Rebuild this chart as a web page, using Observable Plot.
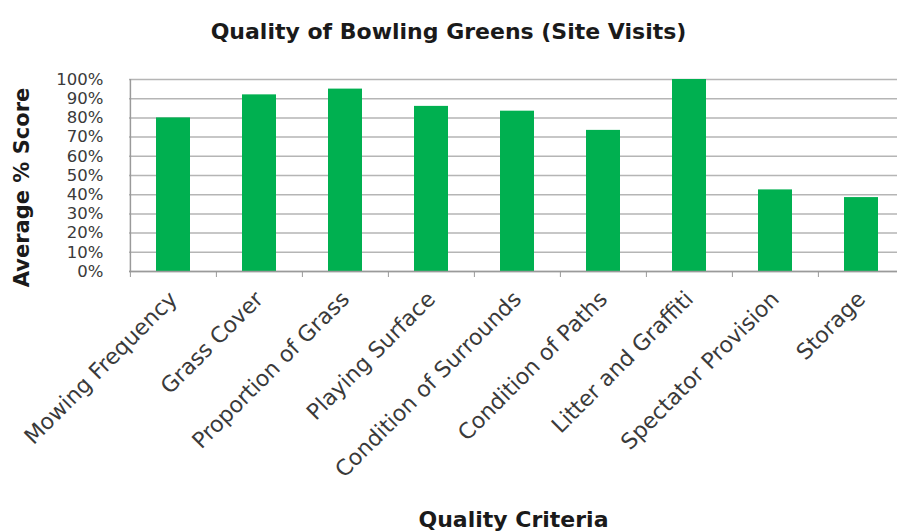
<!DOCTYPE html>
<html>
<head>
<meta charset="utf-8">
<script src="https://cdn.jsdelivr.net/npm/d3@7"></script>
<script src="https://cdn.jsdelivr.net/npm/@observablehq/plot@0.6"></script>
<style>
  html, body { margin: 0; padding: 0; background: #fff; }
  #title { width: 897px; height: 60px; line-height: 64px; text-align: center;
           font-family: "DejaVu Sans", sans-serif; font-weight: bold; font-size: 22px; color: #1a1a1a; }
</style>
</head>
<body>
<div id="title">Quality of Bowling Greens (Site Visits)</div>
<div id="chart"></div>
<script>
const categories = ["Mowing Frequency", "Grass Cover", "Proportion of Grass", "Playing Surface",
  "Condition of Surrounds", "Condition of Paths", "Litter and Graffiti", "Spectator Provision", "Storage"];
const scores = [80, 92, 95, 86, 83.5, 73.5, 100, 42.5, 38.5];
const yTicks = [0, 10, 20, 30, 40, 50, 60, 70, 80, 90, 100];
const xTitle = "Quality Criteria";
const yTitle = "Average % Score";

const data = categories.map((c, i) => ({category: c, score: scores[i]}));

const chart = Plot.plot({
  width: 897,
  height: 471,
  marginLeft: 129,
  marginRight: 0,
  marginTop: 19,
  marginBottom: 260,
  style: {fontFamily: "DejaVu Sans, sans-serif", background: "#fff", color: "#3a3a3a"},
  x: {domain: categories, range: [129, 905], paddingInner: 0.61, paddingOuter: 0.305},
  y: {domain: [0, 100]},
  marks: [
    Plot.ruleY(yTicks, {stroke: "#b5b5b5", strokeWidth: 1.5}),
    Plot.barY(data, {x: "category", y: "score", fill: "#00b050"}),
    Plot.ruleY([0], {stroke: "#9a9a9a", strokeWidth: 1.5}),
    Plot.ruleX([categories[0]], {y1: 0, y2: 100, dx: -43.1, stroke: "#9a9a9a", strokeWidth: 1.5}),
    Plot.axisX({tickSize: 6, tickFormat: () => "", dx: -43.1, stroke: "#9a9a9a", label: null}),
    Plot.axisX({tickSize: 0, tickPadding: 24, tickRotate: -45, fontSize: 22, label: null, fill: "#3a3a3a"}),
    Plot.axisX({tickSize: 0, tickFormat: () => "", label: xTitle, labelAnchor: "center",
                labelOffset: 255, dx: 5, fontSize: 22, fontWeight: "bold", fill: "#1a1a1a"}),
    Plot.axisY({ticks: yTicks, tickSize: 0, tickPadding: 26, tickFormat: d => d + "%", fontSize: 16.5,
                label: null, fill: "#3a3a3a"}),
    Plot.text([yTitle], {text: d => d, frameAnchor: "left", textAnchor: "middle", lineAnchor: "middle",
                rotate: -90, dx: -107, dy: 12, fontSize: 21, fontWeight: "bold", fill: "#1a1a1a"})
  ]
});
document.getElementById("chart").appendChild(chart);
</script>
</body>
</html>
